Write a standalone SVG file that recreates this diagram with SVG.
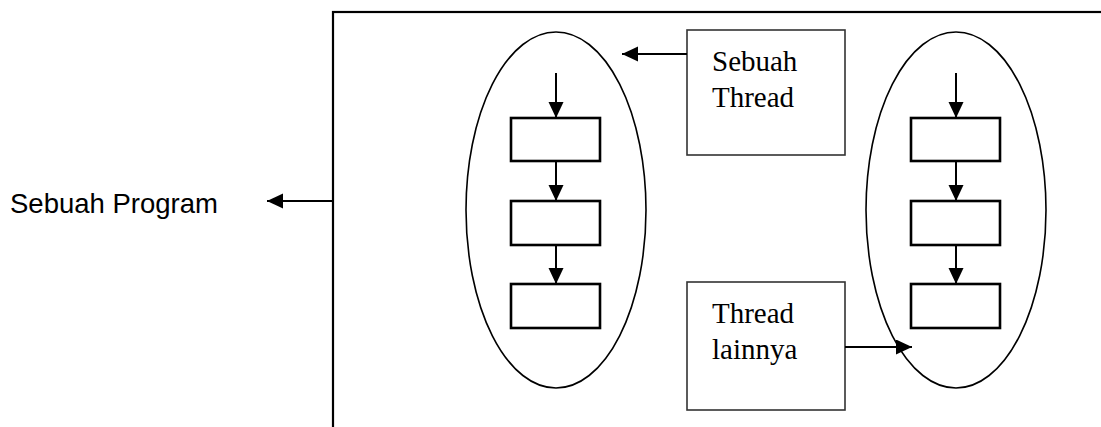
<svg xmlns="http://www.w3.org/2000/svg" width="1101" height="427" viewBox="0 0 1101 427">
<style>
.frame{fill:none;stroke:#000;stroke-width:2.2}
.oval{fill:none;stroke:#000;stroke-width:1.6}
.step{fill:#fff;stroke:#000;stroke-width:2.6}
.label{fill:#fff;stroke:#333;stroke-width:1.6}
.ln{stroke:#000;stroke-width:2;fill:none;marker-end:url(#ah)}
.serif{font-family:"Liberation Serif","Times New Roman",serif;font-size:29px;fill:#000}
.sans{font-family:"Liberation Sans",Arial,sans-serif;font-size:27.5px;fill:#000}
</style>
<defs>
<marker id="ah" markerUnits="userSpaceOnUse" markerWidth="18" markerHeight="16" refX="16" refY="7.5" orient="auto">
<path d="M0,0 L16,7.5 L0,15 Z" fill="#000"/>
</marker>
</defs>
<rect width="1101" height="427" fill="#fff"/>
<g id="program">
<rect class="frame" x="333" y="12" width="800" height="440"/>
<text class="sans" x="10" y="213">Sebuah Program</text>
</g>
<g id="thread1">
<ellipse class="oval" cx="556" cy="210" rx="90" ry="178"/>
<rect class="step" x="511" y="118" width="89" height="43"/>
<rect class="step" x="511" y="201" width="89" height="44"/>
<rect class="step" x="511" y="284" width="89" height="44"/>
</g>
<g id="thread2">
<ellipse class="oval" cx="956" cy="210" rx="90" ry="178"/>
<rect class="step" x="911" y="118" width="89" height="43"/>
<rect class="step" x="911" y="201" width="89" height="44"/>
<rect class="step" x="911" y="284" width="89" height="44"/>
</g>
<g id="label-sebuah-thread">
<rect class="label" x="687" y="30" width="158" height="125"/>
<text class="serif" x="712" y="71">Sebuah</text>
<text class="serif" x="712" y="107">Thread</text>
</g>
<g id="label-thread-lainnya">
<rect class="label" x="687" y="282" width="158" height="128"/>
<text class="serif" x="712" y="323">Thread</text>
<text class="serif" x="712" y="359">lainnya</text>
</g>
<g id="connectors">
<line class="ln" x1="333" y1="201" x2="267" y2="201"/>
<line class="ln" x1="687" y1="54" x2="622" y2="54"/>
<line class="ln" x1="845" y1="347" x2="912" y2="347"/>
<line class="ln" x1="556" y1="73" x2="556" y2="118"/>
<line class="ln" x1="556" y1="161" x2="556" y2="201"/>
<line class="ln" x1="556" y1="245" x2="556" y2="284"/>
<line class="ln" x1="956" y1="73" x2="956" y2="118"/>
<line class="ln" x1="956" y1="161" x2="956" y2="201"/>
<line class="ln" x1="956" y1="245" x2="956" y2="284"/>
</g>
</svg>
